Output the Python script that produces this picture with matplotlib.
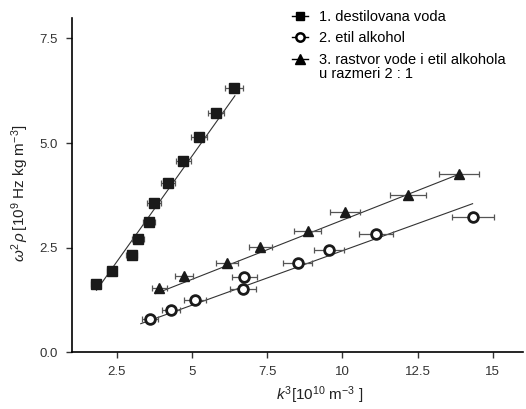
import numpy as np
import matplotlib
matplotlib.use("Agg")
import matplotlib.pyplot as plt
from matplotlib.lines import Line2D

plt.rcParams["font.family"] = ["Liberation Sans", "DejaVu Sans"]
plt.rcParams["mathtext.fontset"] = "custom"
plt.rcParams["mathtext.rm"] = "Liberation Sans"
plt.rcParams["mathtext.it"] = "Liberation Sans:italic"

# 1. destilovana voda
voda_x = [1.80, 2.33, 3.00, 3.21, 3.58, 3.74, 4.21, 4.71, 5.24, 5.80, 6.41]
voda_y = [1.62, 1.94, 2.32, 2.70, 3.11, 3.56, 4.05, 4.57, 5.14, 5.71, 6.31]
voda_err = [0.15, 0.15, 0.18, 0.20, 0.21, 0.22, 0.23, 0.25, 0.27, 0.28, 0.30]
voda_fit_x = [1.83, 6.43]
voda_fit_y = [1.48, 6.13]

# 2. etil alkohol
etil_x = [3.60, 4.30, 5.11, 6.69, 6.74, 8.52, 9.57, 11.12, 14.33]
etil_y = [0.79, 1.01, 1.24, 1.50, 1.80, 2.12, 2.45, 2.83, 3.23]
etil_err = [0.27, 0.29, 0.36, 0.43, 0.42, 0.48, 0.50, 0.58, 0.70]
etil_fit_x = [3.30, 14.33]
etil_fit_y = [0.68, 3.55]

# 3. rastvor 2:1
rastvor_x = [3.91, 4.74, 6.17, 7.28, 8.85, 10.10, 12.19, 13.87]
rastvor_y = [1.53, 1.82, 2.14, 2.51, 2.89, 3.35, 3.76, 4.25]
rastvor_err = [0.25, 0.31, 0.36, 0.39, 0.45, 0.50, 0.60, 0.67]
rastvor_fit_x = [3.80, 13.97]
rastvor_fit_y = [1.40, 4.28]

xticks = [2.5, 5, 7.5, 10, 12.5, 15]
xticklabels = ["2.5", "5", "7.5", "10", "12.5", "15"]
yticks = [0.0, 2.5, 5.0, 7.5]
yticklabels = ["0.0", "2.5", "5.0", "7.5"]

fig = plt.figure(figsize=(5.26, 4.09), dpi=100)
ax = fig.add_axes([0.136, 0.139, 0.858, 0.818])

err_style = dict(fmt="none", ecolor="#555555", elinewidth=0.9, capsize=2.5, capthick=0.9)

# fit lines
ax.plot(voda_fit_x, voda_fit_y, color="#333333", lw=0.8)
ax.plot(etil_fit_x, etil_fit_y, color="#333333", lw=0.8)
ax.plot(rastvor_fit_x, rastvor_fit_y, color="#333333", lw=0.8)

# error bars
ax.errorbar(voda_x, voda_y, xerr=voda_err, **err_style)
ax.errorbar(etil_x, etil_y, xerr=etil_err, **err_style)
ax.errorbar(rastvor_x, rastvor_y, xerr=rastvor_err, **err_style)

# markers
ax.plot(voda_x, voda_y, "s", color="#1a1a1a", ms=6.5, zorder=5)
ax.plot(etil_x, etil_y, "o", mfc="white", mec="#1a1a1a", mew=2, ms=7, zorder=5)
ax.plot(rastvor_x, rastvor_y, "^", color="#1a1a1a", ms=7.5, zorder=5)

ax.set_xlim(1.0, 16.0)
ax.set_ylim(0.0, 8.0)
ax.set_xticks(xticks)
ax.set_xticklabels(xticklabels)
ax.set_yticks(yticks)
ax.set_yticklabels(yticklabels)
ax.tick_params(direction="out", length=4, width=1, labelsize=9.5, colors="#333333")
ax.tick_params(axis="x", pad=6)
ax.tick_params(axis="y", pad=6)

for s in ["top", "right"]:
    ax.spines[s].set_visible(False)
for s in ["left", "bottom"]:
    ax.spines[s].set_linewidth(1.2)

ax.set_xlabel(r"$k^3$[10$^{10}$ m$^{-3}$ ]", fontsize=11, color="#222222")
ax.set_ylabel(r"$\omega^2\,\rho\,$[10$^9$ Hz kg m$^{-3}$]", fontsize=11, color="#222222")
ax.xaxis.set_label_coords(0.55, -0.095)
ax.yaxis.set_label_coords(-0.09, 0.475)

handles = [
    Line2D([], [], color="black", lw=1, marker="s", ms=5.5),
    Line2D([], [], color="black", lw=1, marker="o", ms=6, mfc="white", mew=1.8),
    Line2D([], [], color="black", lw=1, marker="^", ms=6.5),
]
labels = ["1. destilovana voda", "2. etil alkohol", "3. rastvor vode i etil alkohola"]
leg = fig.legend(handles, labels, loc="upper left", bbox_to_anchor=(0.535, 1.0),
                 frameon=False, fontsize=10.5, handlelength=1.1, handletextpad=0.8,
                 labelspacing=0.5, borderaxespad=0.3)

fig.canvas.draw()
bb = leg.get_texts()[2].get_window_extent()
x0, y0 = fig.transFigure.inverted().transform((bb.x0, bb.y0))
fig.text(x0, y0 - 0.001, "u razmeri 2 : 1", fontsize=10.5, va="top", ha="left")

fig.savefig("out.png", dpi=100)
